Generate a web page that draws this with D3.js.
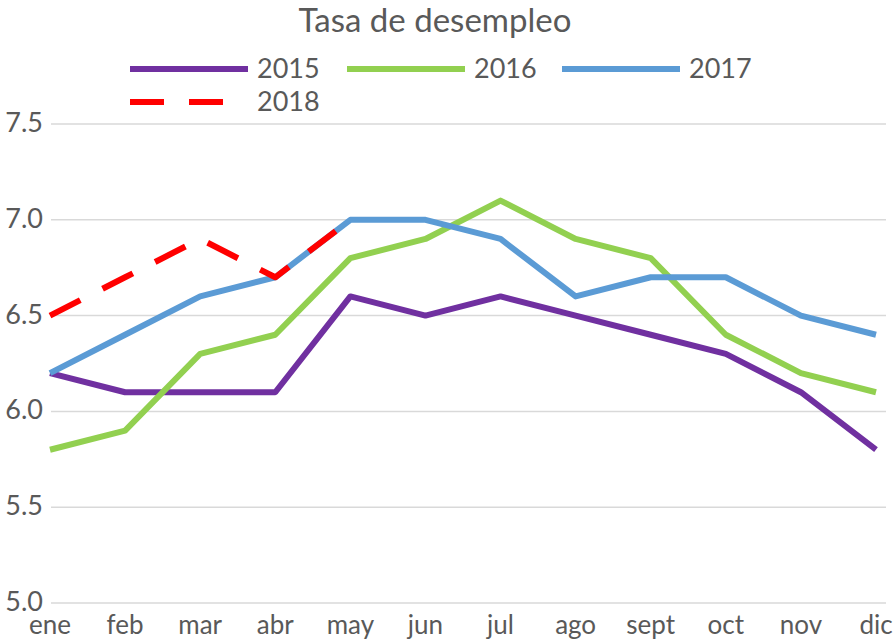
<!DOCTYPE html>
<meta charset="utf-8">
<body style="margin:0;background:#fff">
<script src="https://cdn.jsdelivr.net/npm/d3@7"></script>
<script>
var months = ["ene","feb","mar","abr","may","jun","jul","ago","sept","oct","nov","dic"];
var years = ["2015","2016","2017","2018"];
var colors = ["#7030A0","#92D050","#5B9BD5","#FF0000"];
var v2015 = [6.2,6.1,6.1,6.1,6.6,6.5,6.6,6.5,6.4,6.3,6.1,5.8];
var v2016 = [5.8,5.9,6.3,6.4,6.8,6.9,7.1,6.9,6.8,6.4,6.2,6.1];
var v2017 = [6.2,6.4,6.6,6.7,7.0,7.0,6.9,6.6,6.7,6.7,6.5,6.4];
var v2018 = [6.5,6.7,6.9,6.7,7.0];
var yTicks = [5.0,5.5,6.0,6.5,7.0,7.5];

var series = [v2015, v2016, v2017, v2018];
var width = 894, height = 643;
var font = "Lato, 'Open Sans', sans-serif";

var svg = d3.select("body").append("svg")
    .attr("width", width)
    .attr("height", height)
    .style("font-family", font);

var x = d3.scalePoint().domain(months).range([50, 876]);
var y = d3.scaleLinear().domain([5, 7.5]).range([603, 124]);

// gridlines
svg.append("g").selectAll("line")
    .data(yTicks)
    .enter().append("line")
    .attr("x1", 51).attr("x2", 886)
    .attr("y1", function(d) { return y(d); })
    .attr("y2", function(d) { return y(d); })
    .attr("stroke", "#d9d9d9")
    .attr("stroke-width", 1.5);

// y labels
svg.append("g").selectAll("text")
    .data(yTicks)
    .enter().append("text")
    .attr("x", 43)
    .attr("y", function(d) { return y(d) + 8; })
    .attr("text-anchor", "end")
    .attr("fill", "#595959")
    .style("font-size", "27px")
    .text(function(d) { return d.toFixed(1); });

// x labels
svg.append("g").selectAll("text")
    .data(months)
    .enter().append("text")
    .attr("x", function(d) { return x(d); })
    .attr("y", 634)
    .attr("text-anchor", "middle")
    .attr("fill", "#595959")
    .style("font-size", "26px")
    .text(function(d) { return d; });

var line = d3.line()
    .x(function(d, i) { return x(months[i]); })
    .y(function(d) { return y(d); });

svg.append("g").selectAll("path")
    .data(series)
    .enter().append("path")
    .attr("d", line)
    .attr("fill", "none")
    .attr("stroke", function(d, i) { return colors[i]; })
    .attr("stroke-width", 6)
    .attr("stroke-linejoin", "round")
    .attr("stroke-dasharray", function(d, i) { return i == 3 ? "34,25" : null; });

// title
svg.append("text")
    .attr("x", 435).attr("y", 32)
    .attr("text-anchor", "middle")
    .attr("fill", "#595959")
    .style("font-size", "33px")
    .text("Tasa de desempleo");

// legend
var legPos = [[130, 69], [347, 69], [562, 69], [130, 102]];
var leg = svg.append("g").selectAll("g")
    .data(years)
    .enter().append("g")
    .attr("transform", function(d, i) { return "translate(" + legPos[i][0] + "," + legPos[i][1] + ")"; });
leg.append("line")
    .attr("x1", 0).attr("x2", 118)
    .attr("stroke", function(d, i) { return colors[i]; })
    .attr("stroke-width", 6)
    .attr("stroke-dasharray", function(d, i) { return i == 3 ? "34,25" : null; });
leg.append("text")
    .attr("x", 127).attr("y", 9)
    .attr("fill", "#595959")
    .style("font-size", "27px")
    .text(function(d) { return d; });
</script>
</body>
